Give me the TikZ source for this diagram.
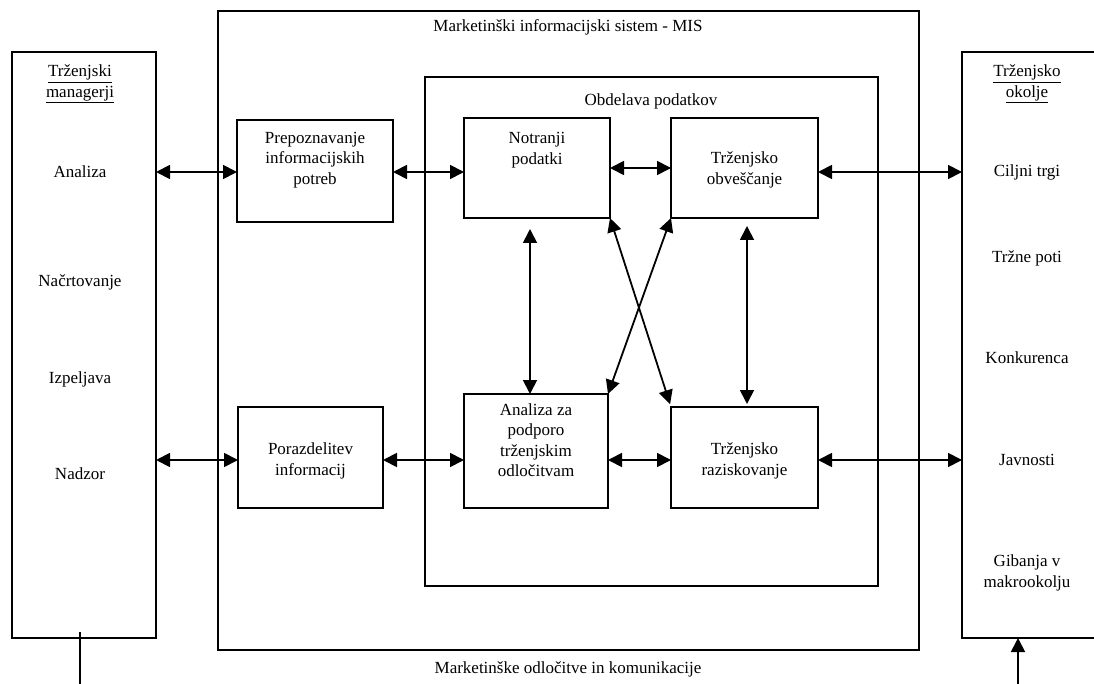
\documentclass[tikz,border=0pt]{standalone}
\usepackage{fontspec}
\setmainfont{Liberation Serif}
\usetikzlibrary{arrows.meta}
\begin{document}
\begin{tikzpicture}[x=1pt,y=-1pt,
  frame/.style={draw,line width=1.8pt,rectangle,inner sep=0pt,outer sep=0pt},
  txt/.style={font=\fontsize{17}{20.5}\selectfont,align=center,inner sep=0pt},
  biarrow/.style={line width=1.8pt,{Triangle[length=14pt,width=14pt]}-{Triangle[length=14pt,width=14pt]}},
  uparrow/.style={line width=1.8pt,-{Triangle[length=14pt,width=14pt]}}]
\useasboundingbox (0,0) rectangle (1094,684);

% outer frames
\node[frame,minimum width=144pt,minimum height=586pt] (mgr) at (84,345) {};
\node[frame,minimum width=701pt,minimum height=639pt] (mis) at (568.5,330.5) {};
\node[frame,minimum width=453pt,minimum height=509pt] (obd) at (651.5,331.5) {};
% environment frame, open to the right
\draw[line width=1.8pt] (1100,52) -- (962,52) -- (962,638) -- (1100,638);
\coordinate (env) at (962,345);
\coordinate (envbot) at (1018,638);

% inner boxes
\node[frame,minimum width=156pt,minimum height=102pt] (prep) at (315,171) {};
\node[frame,minimum width=146pt,minimum height=100pt] (notr) at (537,168) {};
\node[frame,minimum width=147pt,minimum height=100pt] (obv) at (744.5,168) {};
\node[frame,minimum width=145pt,minimum height=101pt] (por) at (310.5,457.5) {};
\node[frame,minimum width=144pt,minimum height=114pt] (anal) at (536,451) {};
\node[frame,minimum width=147pt,minimum height=101pt] (raz) at (744.5,457.5) {};

% box texts
\node[txt] (tprep) at (315,160) {Prepoznavanje\\informacijskih\\potreb};
\node[txt] (tnotr) at (537,150) {Notranji\\podatki};
\node[txt] (tobv) at (744.5,170) {Trženjsko\\obveščanje};
\node[txt] (tpor) at (310.5,461) {Porazdelitev\\informacij};
\node[txt] (tanal) at (536,440) {Analiza za\\podporo\\trženjskim\\odločitvam};
\node[txt] (traz) at (744.5,461) {Trženjsko\\raziskovanje};

% titles
\node[txt] (tmis) at (568,27) {Marketinški informacijski sistem - MIS};
\node[txt] (tobd) at (651,101) {Obdelava podatkov};
\node[txt] (tmk) at (568,669) {Marketinške odločitve in komunikacije};

% managers column
\node[txt] (hmgr) at (80,84) {\underline{Trženjski}\\\underline{managerji}};
\node[txt] (m1) at (80,172) {Analiza};
\node[txt] (m2) at (80,282) {Načrtovanje};
\node[txt] (m3) at (80,379) {Izpeljava};
\node[txt] (m4) at (80,474) {Nadzor};

% environment column
\node[txt] (henv) at (1027,84) {\underline{Trženjsko}\\\underline{okolje}};
\node[txt] (e1) at (1027,172) {Ciljni trgi};
\node[txt] (e2) at (1027,258) {Tržne poti};
\node[txt] (e3) at (1027,358) {Konkurenca};
\node[txt] (e4) at (1027,460) {Javnosti};
\node[txt] (e5) at (1027,573) {Gibanja v\\makrookolju};

% horizontal flows, upper row
\draw[biarrow] (mgr.east |- 0,172) -- (prep.west |- 0,172);
\draw[biarrow] (prep.east |- 0,172) -- (notr.west |- 0,172);
\draw[biarrow] (notr.east) -- (obv.west);
\draw[biarrow] (obv.east |- 0,172) -- (env |- 0,172);
% horizontal flows, lower row
\draw[biarrow] (mgr.east |- 0,460) -- (por.west |- 0,460);
\draw[biarrow] (por.east |- 0,460) -- (anal.west |- 0,460);
\draw[biarrow] (anal.east |- 0,460) -- (raz.west |- 0,460);
\draw[biarrow] (raz.east |- 0,460) -- (env |- 0,460);

% vertical and crossing flows
\draw[biarrow,shorten <=11pt] (notr.south -| 530,0) -- (anal.north -| 530,0);
\draw[biarrow,shorten <=8pt,shorten >=3pt] (obv.south -| 747,0) -- (raz.north -| 747,0);
\draw[biarrow,shorten >=3pt] (notr.south east) -- (raz.north west);
\draw[biarrow] (obv.south west) -- (anal.north east);

% lines leaving the frames at the bottom
\coordinate (mgrout) at (80,684);
\coordinate (envin) at (1018,684);
\draw[line width=1.8pt] (80,632) -- (mgrout);
\draw[uparrow] (envin) -- (envbot);
\end{tikzpicture}
\end{document}
